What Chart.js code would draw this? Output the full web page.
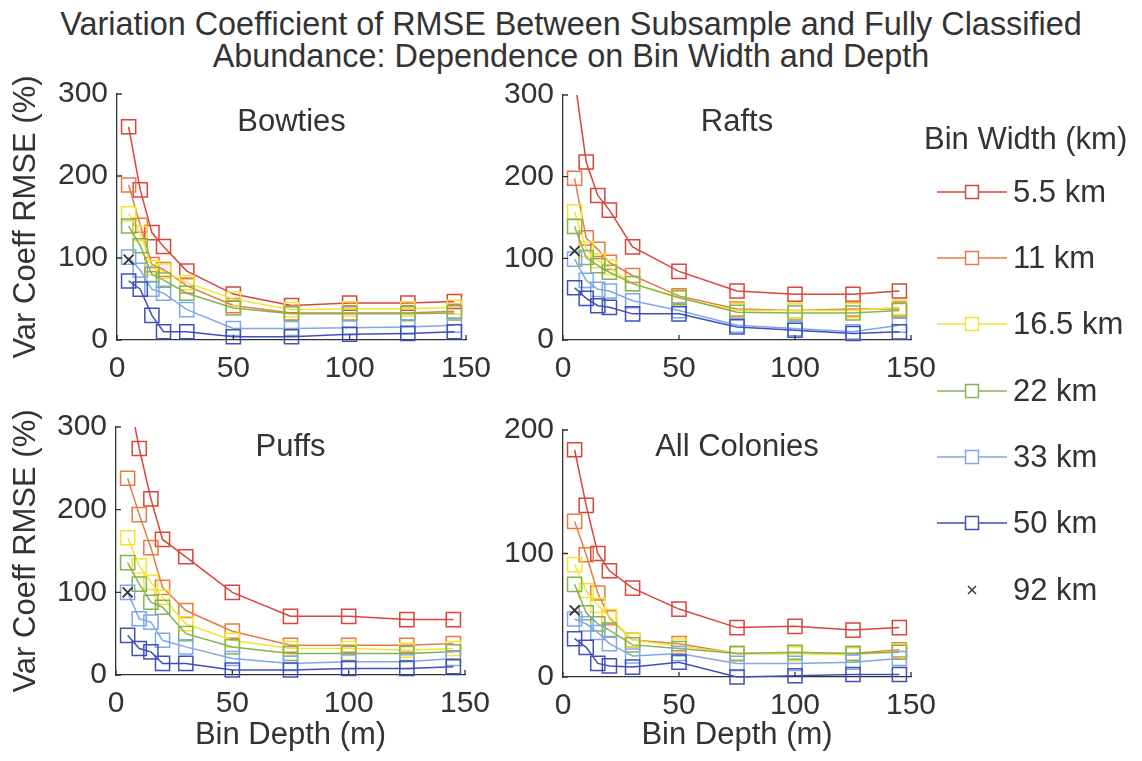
<!DOCTYPE html>
<html>
<head>
<meta charset="utf-8">
<script src="https://cdn.jsdelivr.net/npm/chart.js@4.4.0/dist/chart.umd.min.js"></script>
<style>
  body { margin: 0; background: #fff; }
  #page { position: relative; width: 1142px; height: 761px; overflow: hidden;
          font-family: "Liberation Sans", Arial, sans-serif; color: #333; }
  #title { position: absolute; left: 0; top: 8px; width: 1142px; text-align: center;
           font-size: 32.4px; line-height: 32px; }
  canvas { position: absolute; }
  .legend-head { position: absolute; left: 924px; top: 121px; font-size: 31px;
                 line-height: 36px; white-space: nowrap; }
  .legend-row { position: absolute; left: 937px; height: 36px; display: flex;
                align-items: center; font-size: 31px; line-height: 36px; white-space: nowrap; }
  .legend-row svg { margin-right: 6px; }
</style>
</head>
<body>
<div id="page">
  <div id="title">Variation Coefficient of RMSE Between Subsample and Fully Classified<br>Abundance: Dependence on Bin Width and Depth</div>
  <canvas id="bowties"></canvas>
  <canvas id="rafts"></canvas>
  <canvas id="puffs"></canvas>
  <canvas id="colonies"></canvas>
  <div id="legend"></div>
</div>
<script>
// bin depths (m) shared by every panel
const depth = [5, 10, 15, 20, 30, 50, 75, 100, 125, 145];

const widthLabels = ['5.5 km', '11 km', '16.5 km', '22 km', '33 km', '50 km'];
const crossLabel = '92 km';
const seriesColors = ['#d8453a', '#e67b45', '#f2e531', '#84b351', '#7fa8e6', '#4150b8'];

// one row per bin width, one column per depth
const bowtiesRmse = [
  [260, 183, 131, 114, 84, 56, 42, 45, 45, 47],
  [189, 140, 92, 86, 66, 42, 33, 33, 33, 35],
  [154, 130, 88, 84, 70, 50, 37, 38, 38, 40],
  [139, 115, 80, 73, 57, 39, 32, 32, 32, 33],
  [101, 85, 62, 57, 37, 14, 14, 15, 16, 18],
  [72, 62, 30, 10, 10, 4, 4, 7, 8, 10]
];
const raftsRmse = [
  [320, 218, 177, 159, 114, 84, 60, 56, 56, 60],
  [198, 125, 111, 95, 79, 54, 38, 36, 38, 38],
  [157, 111, 97, 89, 69, 51, 36, 36, 36, 40],
  [139, 101, 91, 83, 69, 52, 34, 33, 33, 36],
  [99, 73, 62, 60, 48, 36, 18, 14, 10, 18],
  [64, 51, 42, 40, 32, 32, 16, 12, 8, 10]
];
const puffsRmse = [
  [345, 274, 213, 164, 143, 100, 71, 71, 67, 67],
  [238, 194, 154, 106, 78, 53, 36, 36, 36, 38],
  [166, 132, 112, 94, 62, 42, 32, 32, 30, 32],
  [136, 110, 88, 82, 50, 34, 26, 26, 26, 28],
  [100, 68, 64, 42, 34, 20, 14, 16, 16, 20],
  [48, 32, 28, 14, 14, 6, 6, 8, 8, 10]
];
const coloniesRmse = [
  [184, 139, 100, 86, 72, 55, 40, 41, 38, 40],
  [126, 99, 68, 48, 30, 27, 19, 19, 19, 22],
  [91, 70, 58, 49, 30, 25, 19, 19, 18, 21],
  [75, 52, 43, 38, 26, 23, 19, 20, 19, 20],
  [47, 43, 36, 27, 17, 19, 11, 11, 12, 15],
  [31, 24, 11, 9, 8, 12, 0, 1, 2, 2]
];
// 92 km bins only give a value at the shallowest depth
const crossDepth = 5;
const crossRmse = { bowties: 98, rafts: 109, puffs: 100, colonies: 54 };

const FONT = '"Liberation Sans", Arial, sans-serif';
const INK = '#333';
Chart.defaults.font.family = FONT;
Chart.defaults.color = INK;

const panels = [
  { id: 'bowties', name: 'Bowties', rows: bowtiesRmse, yMax: 300, box: [117, 92, 466, 340], canvasLeft: 0, titleDy: 28, yTitle: true, xTitle: false },
  { id: 'rafts', name: 'Rafts', rows: raftsRmse, yMax: 300, box: [563, 93, 911, 340], canvasLeft: 490, titleDy: 27, yTitle: false, xTitle: false },
  { id: 'puffs', name: 'Puffs', rows: puffsRmse, yMax: 300, box: [116, 425, 465, 675], canvasLeft: 0, titleDy: 20, yTitle: true, xTitle: true },
  { id: 'colonies', name: 'All Colonies', rows: coloniesRmse, yMax: 200, box: [563, 428, 911, 677], canvasLeft: 490, titleDy: 17, yTitle: false, xTitle: true }
];

// small tick marks pointing into the axes, matlab style
const innerTicks = {
  id: 'innerTicks',
  afterDraw(chart) {
    const { ctx, chartArea: a, scales: { x, y } } = chart;
    ctx.save();
    ctx.strokeStyle = INK;
    ctx.lineWidth = 1.3;
    ctx.beginPath();
    x.ticks.forEach(t => {
      const px = x.getPixelForValue(t.value);
      ctx.moveTo(px, a.bottom);
      ctx.lineTo(px, a.bottom - 5);
    });
    y.ticks.forEach(t => {
      const py = y.getPixelForValue(t.value);
      ctx.moveTo(a.left, py);
      ctx.lineTo(a.left + 5, py);
    });
    ctx.stroke();
    ctx.restore();
  }
};

const panelTitle = {
  id: 'panelTitle',
  afterDraw(chart, args, opts) {
    const { ctx, chartArea: a } = chart;
    ctx.save();
    ctx.font = '31px ' + FONT;
    ctx.fillStyle = INK;
    ctx.textAlign = 'center';
    ctx.textBaseline = 'middle';
    ctx.fillText(opts.text, (a.left + a.right) / 2, a.top + opts.offset);
    ctx.restore();
  }
};

panels.forEach(p => {
  const [left, top, right, bottom] = p.box;
  const canvas = document.getElementById(p.id);
  const canvasTop = top - 25;
  const canvasBottom = p.xTitle ? 761 : bottom + 50;
  const yw = left - p.canvasLeft;
  const xh = canvasBottom - bottom;
  canvas.width = right + 40 - p.canvasLeft;
  canvas.height = canvasBottom - canvasTop;
  canvas.style.left = p.canvasLeft + 'px';
  canvas.style.top = canvasTop + 'px';

  const datasets = p.rows.map((vals, i) => ({
    label: widthLabels[i],
    data: depth.map((d, j) => ({ x: d, y: vals[j] })),
    borderColor: seriesColors[i],
    backgroundColor: 'rgba(0,0,0,0)',
    borderWidth: 1.5,
    pointStyle: 'rect',
    pointRadius: 10,
    pointBorderWidth: 1.5,
    pointBorderColor: seriesColors[i],
    pointBackgroundColor: 'rgba(0,0,0,0)',
    tension: 0,
    order: widthLabels.length - i,
    clip: { left: 15, right: 15, top: 0, bottom: 15 }
  }));
  datasets.push({
    label: crossLabel,
    data: [{ x: crossDepth, y: crossRmse[p.id] }],
    showLine: false,
    pointStyle: 'crossRot',
    pointRadius: 7,
    pointBorderWidth: 1.8,
    pointBorderColor: INK,
    borderColor: INK,
    order: 0,
    clip: 15
  });

  new Chart(canvas, {
    type: 'line',
    data: { datasets },
    options: {
      responsive: false,
      animation: false,
      events: [],
      layout: { padding: { top: 25, right: 40, left: 0, bottom: 0 } },
      plugins: {
        legend: { display: false },
        tooltip: { enabled: false },
        panelTitle: { text: p.name, offset: p.titleDy }
      },
      scales: {
        x: {
          type: 'linear',
          min: 0,
          max: 150,
          afterFit: s => { s.height = xh; },
          grid: { display: false, drawTicks: false },
          border: { display: true, color: INK, width: 1.3 },
          ticks: { stepSize: 50, padding: 11, maxRotation: 0, font: { size: 30 }, color: INK },
          title: {
            display: p.xTitle,
            text: 'Bin Depth (m)',
            font: { size: 31, lineHeight: 1 },
            color: INK,
            padding: { top: 0, bottom: 10 }
          }
        },
        y: {
          min: 0,
          max: p.yMax,
          afterFit: s => { s.width = yw; },
          grid: { display: false, drawTicks: false },
          border: { display: true, color: INK, width: 1.3 },
          ticks: { stepSize: 100, padding: 9, font: { size: 30 }, color: INK },
          title: {
            display: p.yTitle,
            text: 'Var Coeff RMSE (%)',
            font: { size: 31, lineHeight: 1 },
            color: INK,
            padding: { top: 11, bottom: 0 }
          }
        }
      }
    },
    plugins: [innerTicks, panelTitle]
  });
});

// legend built from the same series names and colours
const legend = document.getElementById('legend');
const head = document.createElement('div');
head.className = 'legend-head';
head.textContent = 'Bin Width (km)';
legend.appendChild(head);

const rowCentres = [192, 258, 324, 391, 457, 523, 590];
const svgNS = 'http://www.w3.org/2000/svg';
function legendRow(label, centre, draw) {
  const row = document.createElement('div');
  row.className = 'legend-row';
  row.style.top = (centre - 18) + 'px';
  const svg = document.createElementNS(svgNS, 'svg');
  svg.setAttribute('width', 70);
  svg.setAttribute('height', 20);
  draw(svg);
  row.appendChild(svg);
  row.appendChild(document.createTextNode(label));
  legend.appendChild(row);
}
function el(name, attrs) {
  const e = document.createElementNS(svgNS, name);
  Object.entries(attrs).forEach(([k, v]) => e.setAttribute(k, v));
  return e;
}
widthLabels.forEach((label, i) => {
  legendRow(label, rowCentres[i], svg => {
    svg.appendChild(el('line', { x1: 0, y1: 10, x2: 70, y2: 10, stroke: seriesColors[i], 'stroke-width': 1.5 }));
    svg.appendChild(el('rect', { x: 28.5, y: 3.5, width: 13, height: 13, fill: '#fff', stroke: seriesColors[i], 'stroke-width': 1.5 }));
  });
});
legendRow(crossLabel, rowCentres[6], svg => {
  svg.appendChild(el('line', { x1: 31, y1: 6, x2: 39, y2: 14, stroke: INK, 'stroke-width': 1.5 }));
  svg.appendChild(el('line', { x1: 39, y1: 6, x2: 31, y2: 14, stroke: INK, 'stroke-width': 1.5 }));
});
</script>
</body>
</html>
